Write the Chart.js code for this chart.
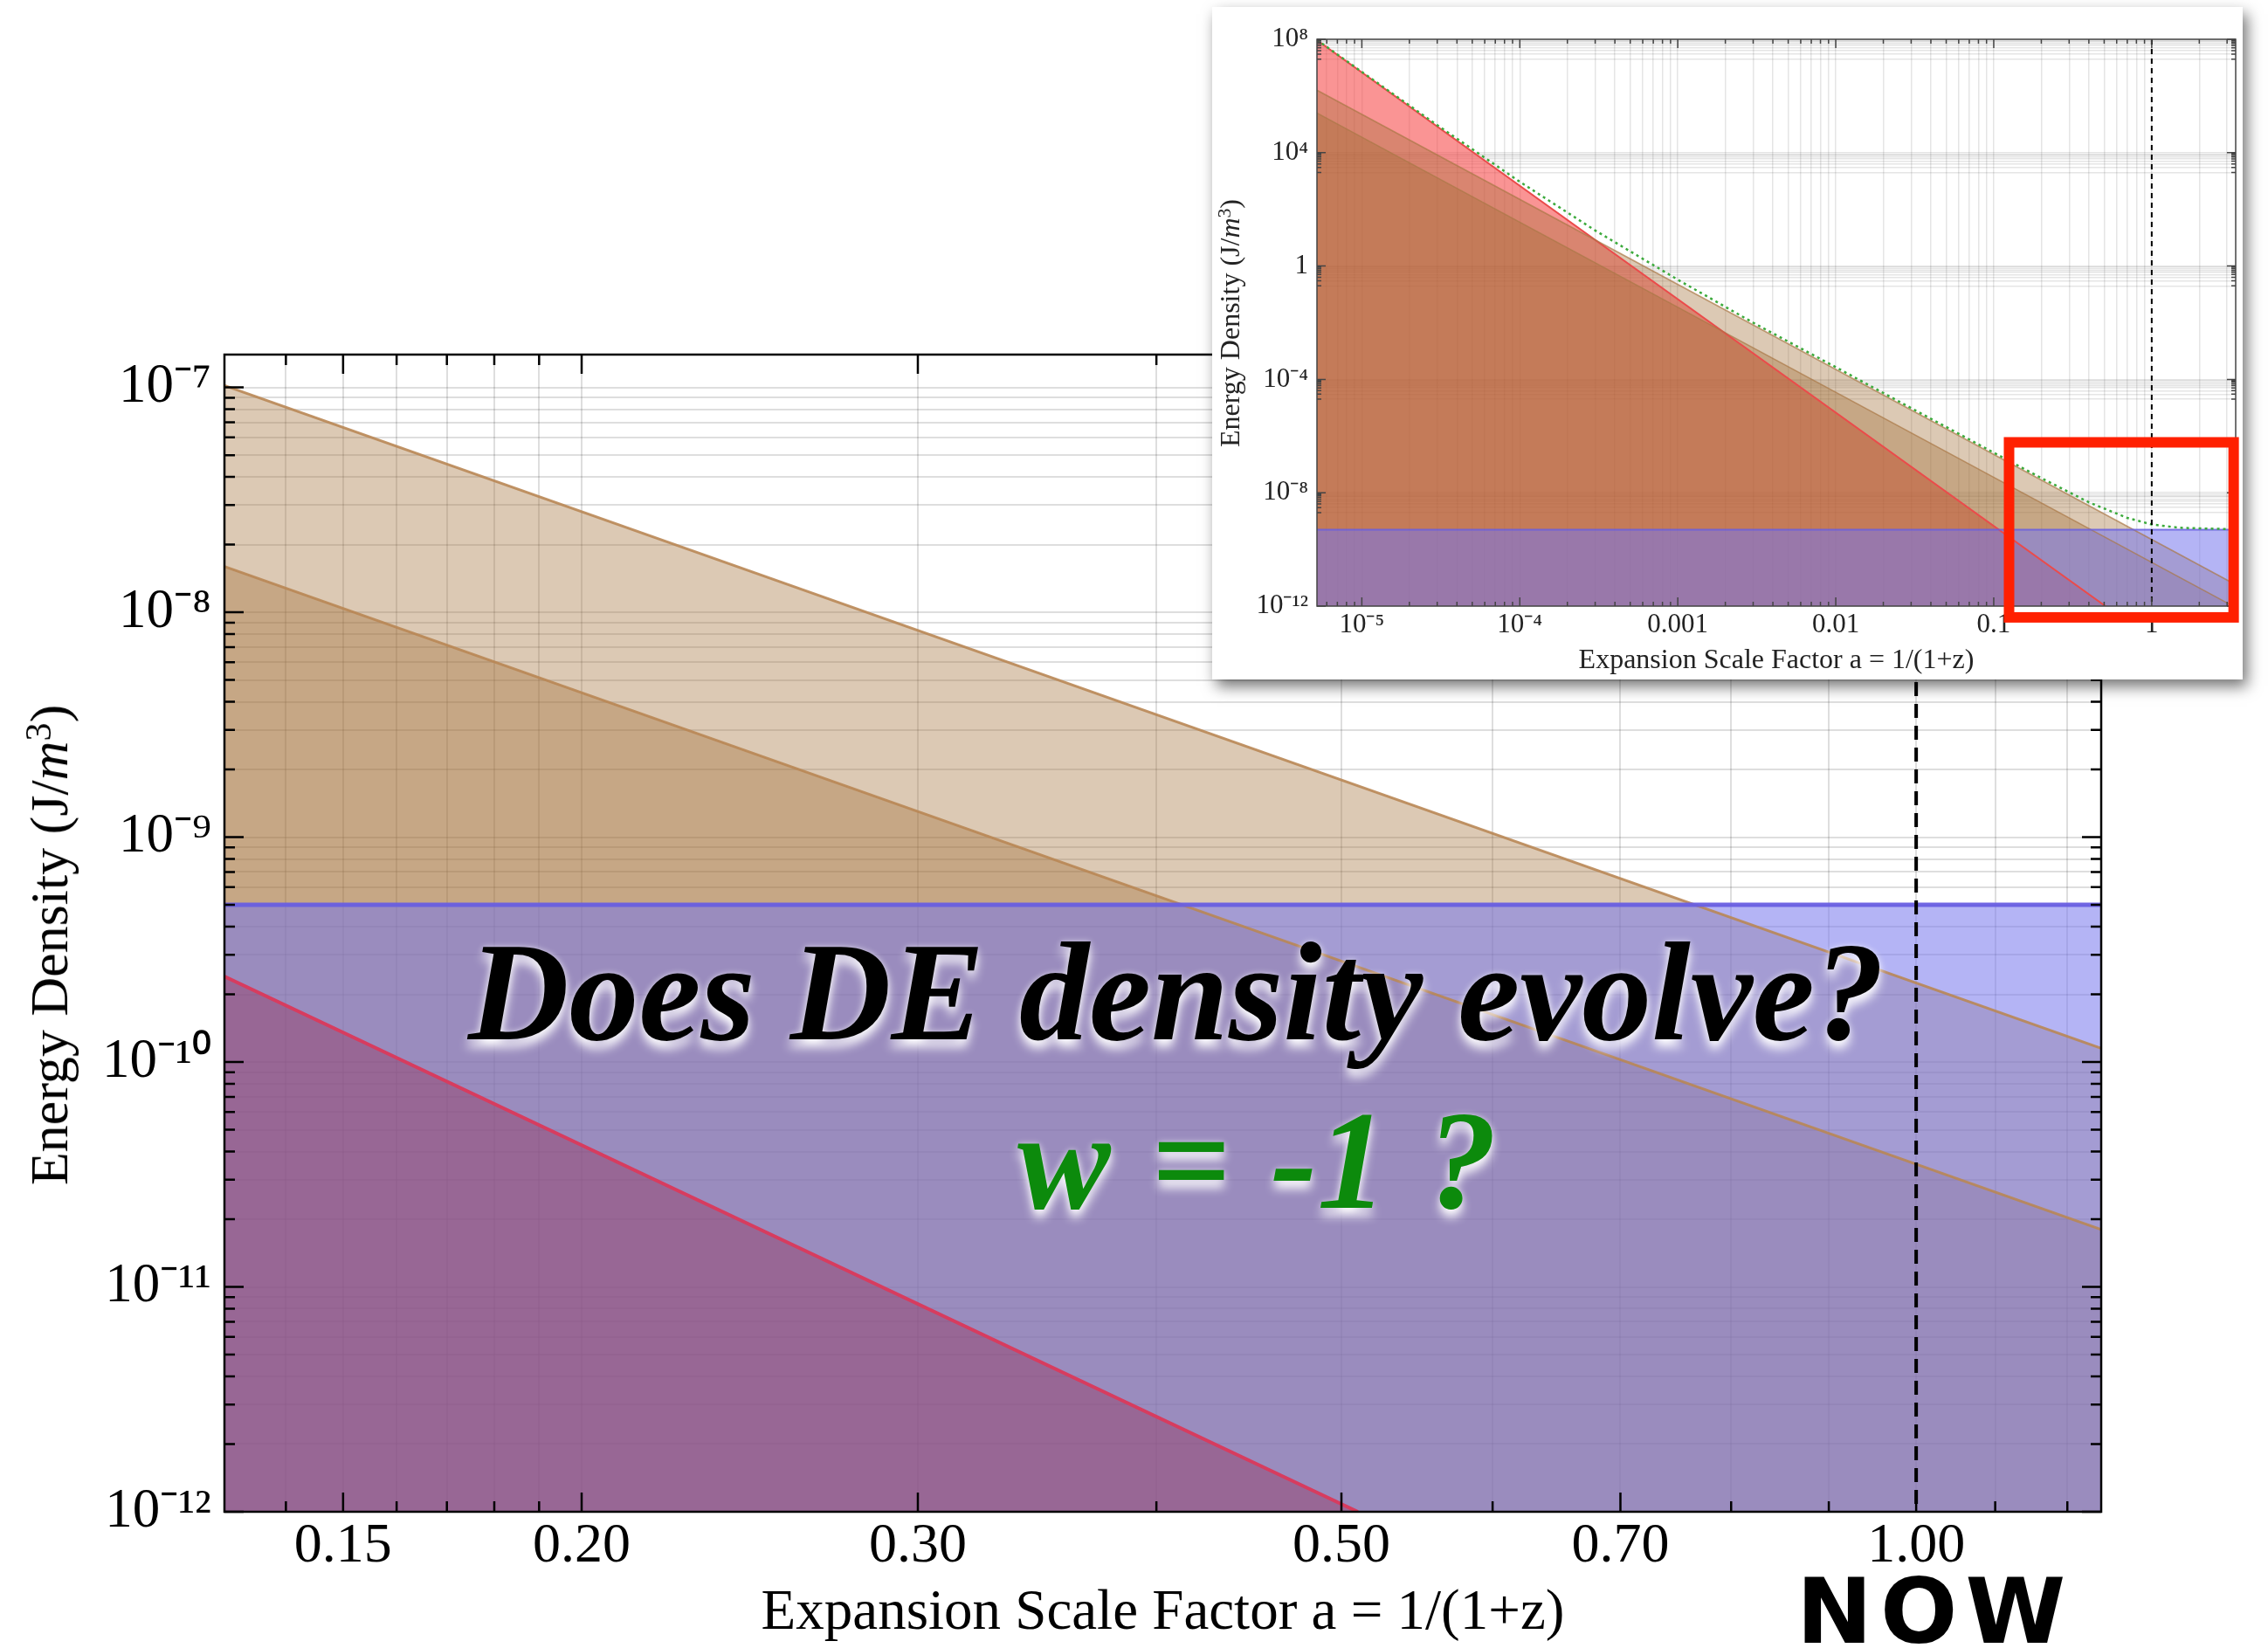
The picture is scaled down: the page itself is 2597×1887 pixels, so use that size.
<!DOCTYPE html>
<html>
<head>
<meta charset="utf-8">
<script src="https://cdn.jsdelivr.net/npm/chart.js@4.4.1/dist/chart.umd.min.js"></script>
<style>
  html, body { margin: 0; padding: 0; background: #fff; }
  #stage { position: relative; width: 2597px; height: 1887px; overflow: hidden; background: #fff; }
  #mainChart { position: absolute; left: 0; top: 0; }
  #inset { position: absolute; left: 1388px; top: 8px; width: 1180px; height: 770px; background: #fff;
           box-shadow: 5px 8px 16px rgba(0,0,0,0.55); z-index: 5; }
  #insetChart { position: absolute; left: 0; top: 0; }
  .ytitle { position: absolute; font-family: 'Liberation Serif', serif; white-space: nowrap; color: #000;
            transform: translate(-50%, -50%) rotate(-90deg); line-height: 1; }
  .ytitle sup { font-size: 0.68em; vertical-align: 0.45em; line-height: 0; }
  .big { position: absolute; font-family: 'Liberation Serif', serif; font-style: italic; font-weight: bold;
         font-size: 160px; line-height: 1; white-space: nowrap; z-index: 3;
         text-shadow: 0 9px 12px rgba(255,255,255,0.95), 0 0 7px rgba(255,255,255,0.55); }
  #question { left: 536px; top: 1056px; color: #000; }
  #wline { left: 1165px; top: 1249px; color: rgb(12,138,12); word-spacing: 6px; }
  #now { position: absolute; left: 2057px; top: 1793px; font-family: 'DejaVu Sans', sans-serif; font-weight: bold;
         font-size: 104px; line-height: 1; letter-spacing: 9px; color: #000; z-index: 3; }
</style>
</head>
<body>
<div id="stage">
  <canvas id="mainChart" width="2597" height="1887"></canvas>
  <div class="ytitle" style="left:56px; top:1082px; font-size:62px;">Energy Density (J/<i>m</i><sup>3</sup>)</div>
  <div class="big" id="question">Does DE density evolve?</div>
  <div class="big" id="wline">w = -1 ?</div>
  <div id="now">NOW</div>
  <div id="inset">
    <canvas id="insetChart" width="1180" height="770"></canvas>
    <div class="ytitle" style="left:20px; top:362px; font-size:32px; color:#222;">Energy Density (J/<i>m</i><sup>3</sup>)</div>
  </div>
</div>
<script>
// ---- main panel: zoom on late times ----
const mainA = [0.13, 1.25];
const mainMatter = [1.02e-7, 1.15e-10];
const mainBaryon = [1.6e-8, 1.8e-11];
const mainDE = [5.0e-10, 5.0e-10];
const mainRadA = [0.13, 0.51];
const mainRad = [2.4e-10, 1.0e-12];

const mainXTicks = [0.14, 0.15, 0.16, 0.17, 0.18, 0.19, 0.20, 0.30, 0.40, 0.50, 0.60, 0.70, 0.80, 0.90, 1.00, 1.10, 1.20];
const mainXLabels = ['0.15', '0.20', '0.30', '0.50', '0.70', '1.00'];
const mainYDecades = [-12, -11, -10, -9, -8, -7];
const nowA = 1.0;

// ---- inset: full history ----
const insetA = [5.2e-6, 3.4];
const insetRad = [9.3e7, 5.0e-16];
const insetMatter = [1.6e6, 5.7e-12];
const insetBaryon = [2.5e5, 8.9e-13];
const insetDE = [5.0e-10, 5.0e-10];
const totalA = [5.2e-6, 1e-5, 3e-5, 1e-4, 3e-4, 1e-3, 3e-3, 0.01, 0.03, 0.1, 0.2, 0.4, 0.7, 1, 1.5, 3.4];
const totalInset = [9.5e7, 7.1e6, 9.4e4, 940, 18, 0.33, 1.0e-2, 2.7e-4, 9.7e-6, 2.6e-7, 3.3e-8, 4.6e-9, 1.3e-9, 7.6e-10, 5.8e-10, 5.1e-10];

const insetXDecades = [-6, -5, -4, -3, -2, -1, 0];
const insetXLabelDecades = [-5, -4, -3, -2, -1, 0];
const insetXLabels = ['10⁻⁵', '10⁻⁴', '0.001', '0.01', '0.1', '1'];
const insetYDecades = [8, 4, 0, -4, -8, -12];
const insetYLabels = ['10⁸', '10⁴', '1', '10⁻⁴', '10⁻⁸', '10⁻¹²'];

const SUP = {'-': '⁻', '0': '⁰', '1': '¹', '2': '²', '3': '³', '4': '⁴', '5': '⁵', '6': '⁶', '7': '⁷', '8': '⁸', '9': '⁹'};
function sup(n) { return String(n).split('').map(c => SUP[c]).join(''); }
function pts(xs, ys) { return xs.map((x, i) => ({x: x, y: ys[i]})); }
function decadeOf(v) {
  const l = Math.log10(v), e = Math.round(l);
  return Math.abs(l - e) < 1e-6 ? e : null;
}

const serif = "'Liberation Serif', 'Times New Roman', serif";

// frame, inward ticks, dashed "now" line, zoom box
const frameTicks = {
  id: 'frameTicks',
  afterDatasetsDraw(chart, args, o) {
    const ctx = chart.ctx, a = chart.chartArea, x = chart.scales.x, y = chart.scales.y;
    ctx.save();
    if (o.nowA) {
      const px = x.getPixelForValue(o.nowA);
      ctx.strokeStyle = '#000';
      ctx.lineWidth = o.nowWidth;
      ctx.setLineDash(o.nowDash);
      ctx.beginPath(); ctx.moveTo(px, a.top); ctx.lineTo(px, a.bottom); ctx.stroke();
      ctx.setLineDash([]);
    }
    ctx.strokeStyle = o.color;
    ctx.lineWidth = o.width;
    ctx.beginPath();
    x.ticks.forEach(t => {
      const px = x.getPixelForValue(t.value);
      const len = t.label ? o.major : o.minor;
      ctx.moveTo(px, a.bottom); ctx.lineTo(px, a.bottom - len);
      ctx.moveTo(px, a.top); ctx.lineTo(px, a.top + len);
    });
    y.ticks.forEach(t => {
      const py = y.getPixelForValue(t.value);
      const len = t.label ? o.major : o.minor;
      ctx.moveTo(a.left, py); ctx.lineTo(a.left + len, py);
      ctx.moveTo(a.right, py); ctx.lineTo(a.right - len, py);
    });
    ctx.stroke();
    ctx.strokeRect(a.left, a.top, a.right - a.left, a.bottom - a.top);
    if (o.box) {
      const x0 = x.getPixelForValue(o.box.a0), x1 = x.getPixelForValue(o.box.a1);
      const y0 = y.getPixelForValue(o.box.v1), y1 = y.getPixelForValue(o.box.v0);
      ctx.strokeStyle = 'rgb(255,32,0)';
      ctx.lineWidth = 12;
      ctx.strokeRect(x0, y0, x1 - x0, y1 - y0);
    }
    ctx.restore();
  }
};

function lineSet(label, data, fill, border, width, order, extra) {
  return Object.assign({
    label: label, data: data, order: order,
    backgroundColor: fill, borderColor: border, borderWidth: width,
    fill: fill ? 'start' : false, pointRadius: 0, tension: 0, clip: 0
  }, extra || {});
}

// ---------- main chart ----------
new Chart(document.getElementById('mainChart').getContext('2d'), {
  type: 'line',
  data: {
    datasets: [
      lineSet('Matter', pts(mainA, mainMatter), 'rgba(160,109,52,0.37)', 'rgba(185,135,85,0.9)', 3, 4),
      lineSet('Baryons', pts(mainA, mainBaryon), 'rgba(160,109,52,0.37)', 'rgba(185,135,85,0.9)', 3, 3),
      lineSet('Dark energy', pts(mainA, mainDE), 'rgba(118,118,236,0.55)', 'rgba(105,95,225,0.95)', 5, 2),
      lineSet('Radiation', pts(mainRadA, mainRad), 'rgba(150,34,74,0.35)', 'rgb(215,60,95)', 4, 1)
    ]
  },
  options: {
    responsive: false,
    animation: false,
    events: [],
    layout: { padding: { top: 406, right: 191, left: 0, bottom: 0 } },
    plugins: {
      legend: { display: false },
      tooltip: { enabled: false },
      filler: { drawTime: 'beforeDatasetsDraw' },
      frameTicks: { color: '#000', width: 2.5, major: 22, minor: 12, nowA: nowA, nowWidth: 4, nowDash: [16, 9] }
    },
    scales: {
      x: {
        type: 'logarithmic', min: 0.13, max: 1.25,
        afterBuildTicks: s => { s.ticks = mainXTicks.map(v => ({value: v})); },
        afterFit: s => { s.height = 156; },
        grid: { color: 'rgba(0,0,0,0.13)', lineWidth: 2, drawTicks: false },
        border: { display: false },
        ticks: {
          autoSkip: false, maxRotation: 0, minRotation: 0, padding: 2, color: '#000',
          font: { family: serif, size: 64 },
          callback: v => { const s = Number(v).toFixed(2); return mainXLabels.includes(s) ? s : ''; }
        },
        title: { display: true, text: 'Expansion Scale Factor a = 1/(1+z)', color: '#000',
                 font: { family: serif, size: 65 }, padding: { top: 0, bottom: 0 } }
      },
      y: {
        type: 'logarithmic', min: 1e-12, max: 1.4e-7,
        afterBuildTicks: s => {
          const vals = [];
          mainYDecades.forEach(e => { for (let m = 1; m <= 9; m++) { const v = m * Math.pow(10, e); if (v <= 1.4e-7) vals.push(v); } });
          s.ticks = vals.map(v => ({value: v}));
        },
        afterFit: s => { s.width = 257; },
        grid: { color: 'rgba(0,0,0,0.13)', lineWidth: 2, drawTicks: false },
        border: { display: false },
        ticks: {
          autoSkip: false, padding: 15, color: '#000',
          font: { family: serif, size: 63 },
          callback: v => { const e = decadeOf(v); return e === null ? '' : '10' + sup(e); }
        }
      }
    }
  },
  plugins: [frameTicks]
});

// ---------- inset chart ----------
new Chart(document.getElementById('insetChart').getContext('2d'), {
  type: 'line',
  data: {
    datasets: [
      lineSet('Radiation', pts(insetA, insetRad), 'rgba(245,60,60,0.55)', 'rgb(235,75,75)', 2, 5),
      lineSet('Matter', pts(insetA, insetMatter), 'rgba(160,109,52,0.37)', 'rgba(170,120,70,0.7)', 1.5, 4),
      lineSet('Baryons', pts(insetA, insetBaryon), 'rgba(160,109,52,0.37)', 'rgba(170,120,70,0.7)', 1.5, 3),
      lineSet('Dark energy', pts(insetA, insetDE), 'rgba(118,118,236,0.55)', 'rgba(105,95,225,0.85)', 2, 2),
      lineSet('Total', pts(totalA, totalInset), null, 'rgb(60,170,60)', 2.5, 1, { borderDash: [3, 4] })
    ]
  },
  options: {
    responsive: false,
    animation: false,
    events: [],
    layout: { padding: { top: 37, right: 8, left: 0, bottom: 0 } },
    plugins: {
      legend: { display: false },
      tooltip: { enabled: false },
      filler: { drawTime: 'beforeDatasetsDraw' },
      frameTicks: { color: '#444', width: 1.5, major: 10, minor: 5, nowA: nowA, nowWidth: 2, nowDash: [6, 5],
                    box: { a0: 0.125, a1: 3.3, v0: 4e-13, v1: 6e-7 } }
    },
    scales: {
      x: {
        type: 'logarithmic', min: 5.2e-6, max: 3.4,
        afterBuildTicks: s => {
          const vals = [];
          insetXDecades.forEach(e => { for (let m = 1; m <= 9; m++) { const v = m * Math.pow(10, e); if (v >= 5.2e-6 && v <= 3.4) vals.push(v); } });
          s.ticks = vals.map(v => ({value: v}));
        },
        afterFit: s => { s.height = 84; },
        grid: { color: 'rgba(0,0,0,0.1)', lineWidth: 1.5, drawTicks: false },
        border: { display: false },
        ticks: {
          autoSkip: false, maxRotation: 0, minRotation: 0, padding: 3, color: '#222',
          font: { family: serif, size: 31 },
          callback: v => { const e = decadeOf(v); const i = insetXLabelDecades.indexOf(e); return i < 0 ? '' : insetXLabels[i]; }
        },
        title: { display: true, text: 'Expansion Scale Factor a = 1/(1+z)', color: '#222',
                 font: { family: serif, size: 32 }, padding: { top: 0, bottom: 2 } }
      },
      y: {
        type: 'logarithmic', min: 1e-12, max: 1e8,
        afterBuildTicks: s => {
          const vals = [];
          insetYDecades.forEach(e => {
            vals.push(Math.pow(10, e));
            if (e > -12) for (let m = 2; m <= 9; m++) vals.push(m * Math.pow(10, e - 1));
          });
          s.ticks = vals.sort((p, q) => p - q).map(v => ({value: v}));
        },
        afterFit: s => { s.width = 120; },
        grid: { color: 'rgba(0,0,0,0.1)', lineWidth: 1.5, drawTicks: false },
        border: { display: false },
        ticks: {
          autoSkip: false, padding: 10, color: '#222',
          font: { family: serif, size: 31 },
          callback: v => { const e = decadeOf(v); const i = insetYDecades.indexOf(e); return i < 0 ? '' : insetYLabels[i]; }
        }
      }
    }
  },
  plugins: [frameTicks]
});
</script>
</body>
</html>
